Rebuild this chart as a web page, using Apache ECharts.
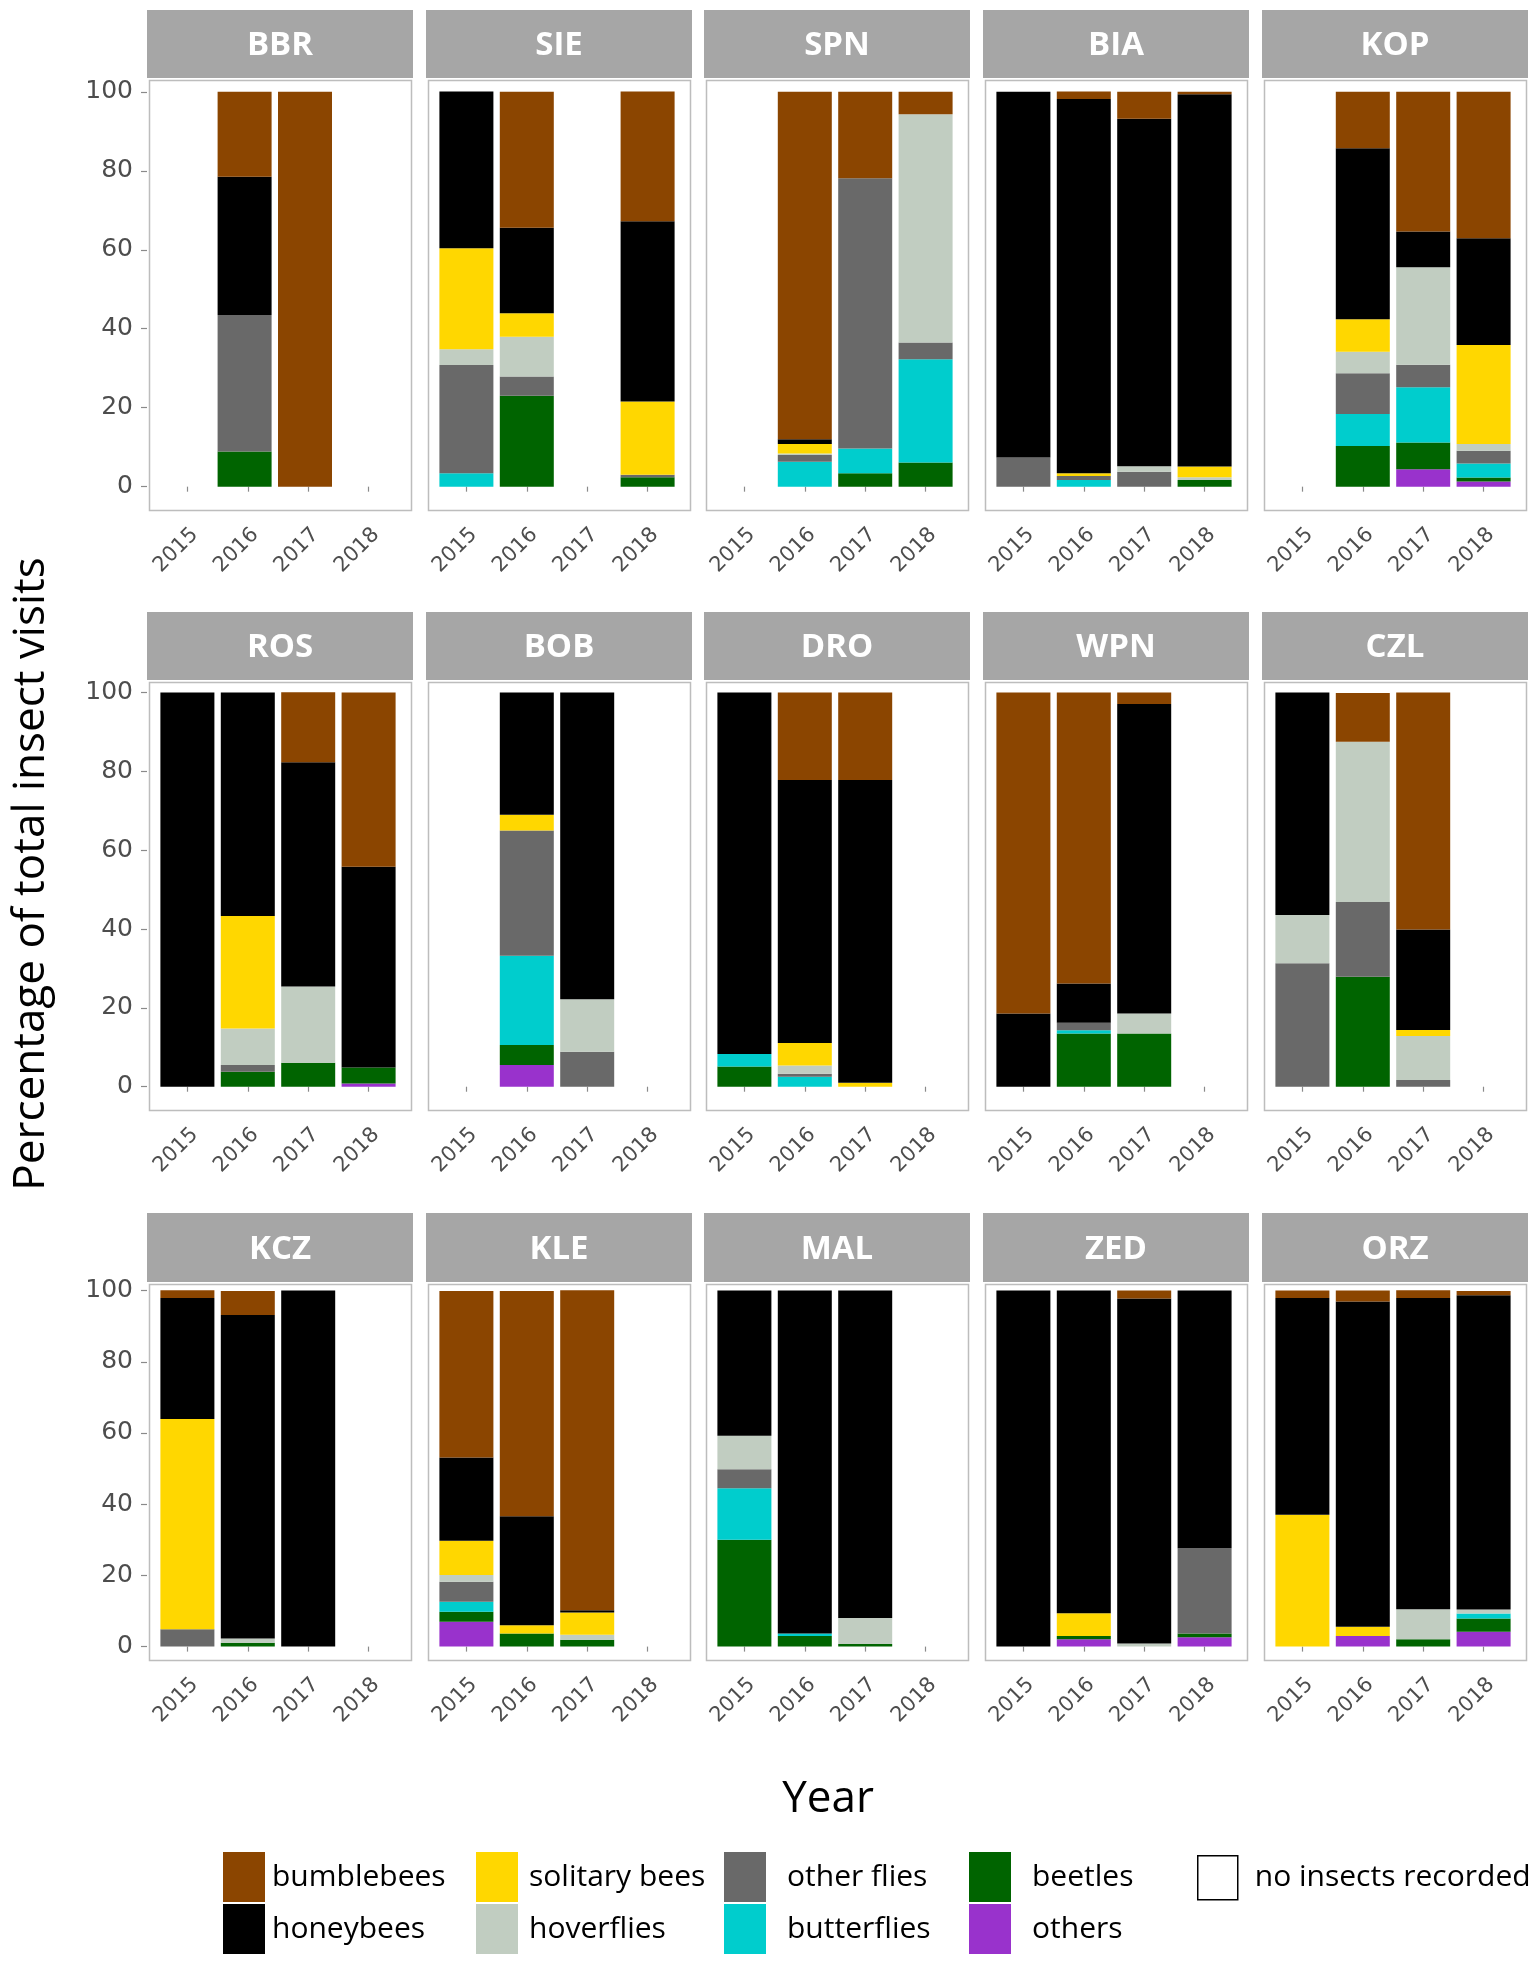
<!DOCTYPE html>
<html>
<head>
<meta charset="utf-8">
<script src="https://cdn.jsdelivr.net/npm/echarts@6/dist/echarts.min.js"></script>
<style>
html,body{margin:0;padding:0;background:#fff;}
#c{width:1536px;height:1965px;}
</style>
</head>
<body>
<div id="c"></div>
<script>
// ---------------- DATA ----------------
const years = ['2015', '2016', '2017', '2018'];
const sites = ['BBR', 'SIE', 'SPN', 'BIA', 'KOP', 'ROS', 'BOB', 'DRO', 'WPN', 'CZL', 'KCZ', 'KLE', 'MAL', 'ZED', 'ORZ'];
const yTicks = [0, 20, 40, 60, 80, 100];

// percentage of visits per site (rows, in order of `sites`) and year (2015..2018); 0 = no bar
const bumblebees = [
  [0, 21.5, 100, 0], [0, 34.4, 0, 32.9], [0, 88.0, 21.9, 5.7], [0, 1.9, 6.8, 0.6], [0, 14.3, 35.4, 37.1],
  [0, 0, 17.8, 44.2], [0, 0, 0, 0], [0, 22.2, 22.2, 0], [81.4, 73.8, 2.9, 0], [0, 12.4, 60.1, 0],
  [2.2, 6.8, 0, 0], [46.8, 63.3, 89.9, 0], [0, 0, 0, 0], [0, 0, 2.2, 0], [2.1, 3.1, 2.2, 1.2]
];
const honeybees = [
  [0, 35.0, 0, 0], [39.7, 21.7, 0, 45.6], [0, 1.2, 0, 0], [92.6, 94.8, 88.0, 94.3], [0, 43.3, 9.0, 27.0],
  [100, 56.7, 56.9, 50.9], [0, 31.0, 77.8, 0], [91.7, 66.7, 76.8, 0], [18.6, 10.0, 78.5, 0], [56.4, 0, 25.5, 0],
  [34.0, 90.8, 100, 0], [23.4, 30.6, 0.6, 0], [40.8, 96.3, 92.0, 0], [100, 90.6, 96.9, 72.4], [60.9, 91.3, 87.4, 88.3]
];
const solitaryBees = [
  [0, 0, 0, 0], [25.6, 5.9, 0, 18.6], [0, 2.4, 0, 0], [0, 0.7, 0, 2.7], [0, 8.2, 0, 25.1],
  [0, 28.5, 0, 0], [0, 4.0, 0, 0], [0, 5.7, 1.0, 0], [0, 0, 0, 0], [0, 0, 1.5, 0],
  [59.0, 0, 0, 0], [9.6, 2.3, 6.3, 0], [0, 0, 0, 0], [0, 6.4, 0, 0], [37.0, 2.6, 0, 0]
];
const hoverflies = [
  [0, 0, 0, 0], [4.0, 10.1, 0, 0], [0, 0.4, 0, 57.8], [0, 0, 1.4, 0.7], [0, 5.5, 24.7, 1.7],
  [0, 9.3, 19.3, 0], [0, 0, 13.3, 0], [0, 2.1, 0, 0], [0, 0, 5.1, 0], [12.3, 40.6, 11.2, 0],
  [0, 1.2, 0, 0], [1.9, 0, 1.4, 0], [9.4, 0, 7.3, 0], [0, 0, 0.9, 0], [0, 0, 8.4, 1.1]
];
const otherFlies = [
  [0, 34.6, 0, 0], [27.4, 4.9, 0, 0.6], [0, 1.7, 68.4, 4.2], [7.4, 1.0, 3.8, 0], [0, 10.3, 5.7, 3.2],
  [0, 1.7, 0, 0], [0, 31.8, 8.9, 0], [0, 0.8, 0, 0], [0, 1.9, 0, 0], [31.3, 19.0, 1.7, 0],
  [4.9, 0, 0, 0], [5.6, 0, 0, 0], [5.3, 0, 0, 0], [0, 0, 0, 23.9], [0, 0, 0, 0]
];
const butterflies = [
  [0, 0, 0, 0], [3.4, 0, 0, 0], [0, 6.3, 6.3, 26.2], [0, 1.7, 0, 0], [0, 8.1, 14.0, 3.6],
  [0, 0, 0, 0], [0, 22.6, 0, 0], [3.2, 2.5, 0, 0], [0, 0.8, 0, 0], [0, 0, 0, 0],
  [0, 0, 0, 0], [2.8, 0, 0, 0], [14.5, 0.7, 0, 0], [0, 0, 0, 0], [0, 0, 0, 1.4]
];
const beetles = [
  [0, 8.9, 0, 0], [0, 23.0, 0, 2.4], [0, 0, 3.4, 6.1], [0, 0, 0, 1.7], [0, 10.3, 6.8, 1.0],
  [0, 3.8, 6.1, 4.1], [0, 5.1, 0, 0], [5.1, 0, 0, 0], [0, 13.5, 13.5, 0], [0, 27.9, 0, 0],
  [0, 1.1, 0, 0], [2.8, 3.7, 1.9, 0], [30.0, 3.0, 0.7, 0], [0, 0.9, 0, 1.1], [0, 0, 2.1, 3.7]
];
const others = [
  [0, 0, 0, 0], [0, 0, 0, 0], [0, 0, 0, 0], [0, 0, 0, 0], [0, 0, 4.4, 1.3],
  [0, 0, 0, 0.8], [0, 5.5, 0, 0], [0, 0, 0, 0], [0, 0, 0, 0], [0, 0, 0, 0],
  [0, 0, 0, 0], [7.0, 0, 0, 0], [0, 0, 0, 0], [0, 2.1, 0, 2.6], [0, 3.0, 0, 4.2]
];

// stacking order, bottom to top
const groupNames = ['others', 'beetles', 'butterflies', 'other flies', 'hoverflies', 'solitary bees', 'honeybees', 'bumblebees'];
const groupData = [others, beetles, butterflies, otherFlies, hoverflies, solitaryBees, honeybees, bumblebees];
const groupColors = ['#9932CC', '#006400', '#00CDCD', '#696969', '#C1CDC1', '#FFD700', '#000000', '#8B4500'];

// ---------------- LAYOUT ----------------
const colLeft = [147, 426, 704, 983, 1262];
const frameW = 262, stripW = 266;
const bandW = 60.4;                 // width of one year slot
const sidePad = (frameW - 4 * bandW) / 2;
const rowTop = [78, 680, 1282];
const rowH = [430, 428, 376];
const stripTop = [10, 612, 1213];
const stripH = [68, 68, 69];
const yRange = [[-5.4, 103.5], [-5.4, 103.2], [-3.2, 102.4]];

const labelFont = 'DejaVu Sans';
const grids = [], xAxes = [], yAxes = [], series = [], graphics = [];

sites.forEach(function (site, i) {
  const r = Math.floor(i / 5), c = i % 5;
  grids.push({
    left: colLeft[c] + sidePad, top: rowTop[r], width: 4 * bandW, height: rowH[r],
    show: false, containLabel: false, outerBoundsMode: 'none'
  });
  xAxes.push({
    gridIndex: i, type: 'category', data: years, boundaryGap: true,
    axisLine: { show: false }, splitLine: { show: false },
    axisTick: { show: true, alignWithLabel: true, length: 5, lineStyle: { color: '#8A8A8A', width: 1.2 } },
    axisLabel: {
      interval: 0, rotate: 45, align: 'right', verticalAlign: 'top', margin: 16,
      fontFamily: labelFont, fontSize: 21, color: '#4D4D4D'
    }
  });
  yAxes.push({
    gridIndex: i, type: 'value', min: yRange[r][0], max: yRange[r][1], offset: sidePad,
    axisLine: { show: false }, splitLine: { show: false },
    axisTick: { show: c === 0, length: 6, lineStyle: { color: '#8A8A8A', width: 1.2 }, customValues: yTicks },
    axisLabel: {
      show: c === 0, customValues: yTicks, margin: 14,
      fontFamily: labelFont, fontSize: 25, color: '#4D4D4D'
    }
  });
  groupNames.forEach(function (g, k) {
    series.push({
      type: 'bar', name: g, xAxisIndex: i, yAxisIndex: i, stack: 'site' + i,
      barWidth: 54, silent: true,
      itemStyle: { color: groupColors[k] },
      data: groupData[k][i]
    });
  });
  // panel frame
  graphics.push({
    type: 'rect', left: colLeft[c], top: rowTop[r],
    shape: { width: frameW, height: rowH[r] },
    style: { fill: null, stroke: '#BDBDBD', lineWidth: 1.5 }, silent: true, z: 10
  });
  // strip header
  graphics.push({
    type: 'rect', left: colLeft[c], top: stripTop[r],
    shape: { width: stripW, height: stripH[r] },
    style: { fill: '#A6A6A6' }, silent: true
  });
  graphics.push({
    type: 'text', x: colLeft[c] + stripW / 2, y: stripTop[r] + stripH[r] / 2 + 2,
    style: { text: site, fill: '#fff', font: 'bold 33px "Open Sans"', align: 'center', verticalAlign: 'middle' },
    silent: true
  });
});

// dummy series for the legend key "no insects recorded"
series.push({ type: 'bar', name: 'no insects recorded', xAxisIndex: 0, yAxisIndex: 0, data: [], itemStyle: { color: '#fff', borderColor: '#000', borderWidth: 1.5 } });

graphics.push({
  type: 'text', x: 31, y: 874, rotation: Math.PI / 2,
  style: { text: 'Percentage of total insect visits', fill: '#000', font: '44px "Open Sans"', align: 'center', verticalAlign: 'middle' },
  silent: true
});
graphics.push({
  type: 'text', x: 828, y: 1799,
  style: { text: 'Year', fill: '#000', font: '44px "Open Sans"', align: 'center', verticalAlign: 'middle' },
  silent: true
});

function legendBlock(names, left, top, w, h, padLeft) {
  return {
    orient: 'vertical', left: left, top: top, itemWidth: w, itemHeight: h, itemGap: 2,
    selectedMode: false, icon: 'rect', padding: 0,
    textStyle: { fontFamily: 'Open Sans', fontSize: 30, color: '#000', padding: [0, 0, 0, padLeft] },
    data: names.map(function (n) {
      const k = groupNames.indexOf(n);
      if (k < 0) return { name: n, itemStyle: { color: '#fff', borderColor: '#000', borderWidth: 1.5 } };
      return { name: n, itemStyle: { color: groupColors[k], borderWidth: 0 } };
    })
  };
}

const option = {
  backgroundColor: '#fff',
  animation: false,
  grid: grids,
  xAxis: xAxes,
  yAxis: yAxes,
  series: series,
  legend: [
    legendBlock(['bumblebees', 'honeybees'], 223, 1852, 42, 50, 2),
    legendBlock(['solitary bees', 'hoverflies'], 476, 1852, 42, 50, 6),
    legendBlock(['other flies', 'butterflies'], 724, 1852, 42, 50, 16),
    legendBlock(['beetles', 'others'], 969, 1852, 42, 50, 16),
    legendBlock(['no insects recorded'], 1197, 1855, 40, 44, 12)
  ],
  graphic: { elements: graphics }
};

const chart = echarts.init(document.getElementById('c'), null, { renderer: 'canvas', width: 1536, height: 1965 });
chart.setOption(option);
</script>
</body>
</html>
